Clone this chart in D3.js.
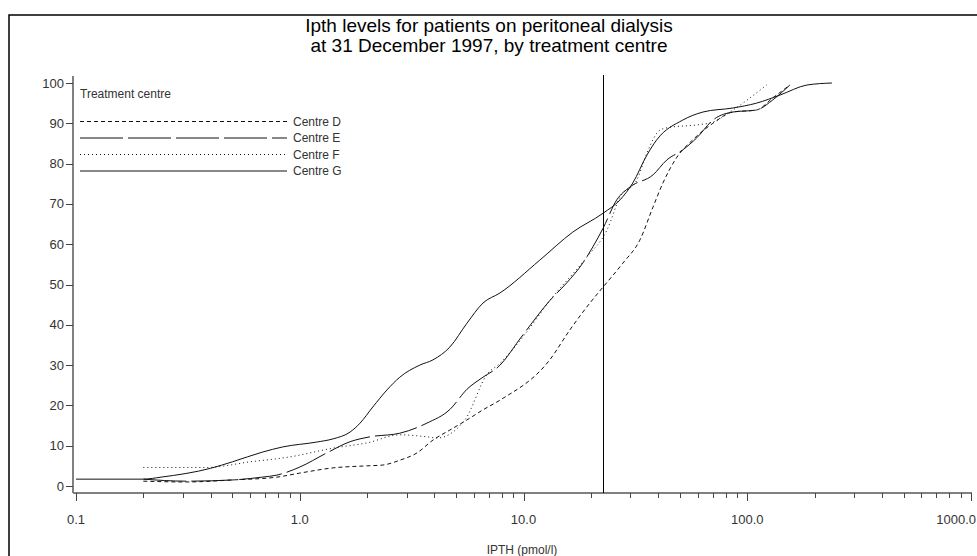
<!DOCTYPE html>
<html>
<head>
<meta charset="utf-8">
<script src="https://cdn.jsdelivr.net/npm/d3@7"></script>
<style>
body { margin: 0; background: #fff; }
text { font-family: "Liberation Sans", Arial, sans-serif; }
</style>
</head>
<body>
<svg id="chart" width="977" height="556"></svg>
<script>
// cumulative % of patients vs IPTH (pmol/l)
const centres = ["Centre D", "Centre E", "Centre F", "Centre G"];
const dashes = ["4,3", "43,5", "1,3", null];

const ipthD = [0.2, 0.31, 0.5, 0.79, 1.0, 1.41, 2.0, 2.35, 2.8, 3.34, 3.94, 4.69, 5.59, 6.59, 7.85, 13.1, 16.1, 19.8, 22.7, 27.8, 33.1, 37.9, 42.0, 48.5, 57.1, 70.2, 86.3, 110, 130, 155];
const pctD  = [1.2, 1.0, 1.5, 2.2, 3.2, 4.5, 5.0, 5.2, 6.4, 8.2, 11.4, 13.9, 16.4, 18.9, 21.3, 31.3, 38.7, 45.4, 49.4, 55.3, 61, 69.2, 75.2, 81.6, 85.9, 90, 92.8, 93.3, 96.3, 99.5];

const ipthE = [0.2, 0.31, 0.5, 0.68, 0.79, 1.0, 1.32, 1.68, 2.06, 2.8, 3.7, 4.69, 5.59, 6.59, 7.69, 9.94, 13.1, 15.6, 18.4, 20.4, 22.7, 26.1, 29.9, 37.9, 43.7, 51.5, 59.5, 70.2, 86.3, 110, 130, 155];
const pctE  = [1.7, 1.2, 1.5, 2.2, 2.7, 4.7, 8.2, 11, 12.2, 13.1, 15.6, 19, 24, 27, 29.5, 37.5, 46, 50.4, 55.3, 59.3, 64, 71, 74.2, 77.2, 80.9, 83.4, 86.4, 90.8, 92.8, 93.3, 95.8, 99.5];

const ipthF = [0.2, 0.385, 0.6, 0.9, 1.41, 2.0, 2.8, 3.7, 4.1, 5.47, 6.93, 7.69, 9.94, 13.1, 19.2, 23.6, 27.0, 32.1, 35.6, 40.7, 45.1, 59.5, 70.2, 86.3, 122];
const pctF  = [4.6, 4.6, 6, 7.2, 9.4, 10.7, 12.7, 12.2, 11.9, 16.4, 28, 30, 37, 46, 56.8, 63.5, 71.7, 75.9, 82.6, 88.3, 89, 89.6, 90.3, 93.3, 99.5];

const ipthG = [0.1, 0.2, 0.24, 0.4, 0.5, 0.68, 0.84, 1.19, 1.41, 1.68, 1.86, 2.12, 2.45, 2.8, 3.44, 3.94, 4.69, 5.59, 6.59, 7.85, 11.8, 16.6, 22.7, 27, 30.8, 35.6, 39.4, 51.5, 63.4, 86.3, 110, 140, 185, 239];
const pctG  = [1.7, 1.7, 2.2, 4.4, 6, 8.4, 9.7, 10.9, 11.7, 13.4, 15.6, 19.6, 23.8, 27, 30, 31.3, 34.5, 40.4, 45.4, 47.9, 56, 63, 67.7, 71, 75.2, 82.1, 85.9, 90.8, 92.8, 93.8, 95, 97, 99.5, 100];

const xMajor = [0.1, 1, 10, 100, 1000];
const xLabels = ["0.1", "1.0", "10.0", "100.0", "1000.0"];
const yTicks = [0, 10, 20, 30, 40, 50, 60, 70, 80, 90, 100];
const refIpth = 22.7;

const titleLines = ["Ipth levels for patients on peritoneal dialysis", "at 31 December 1997, by treatment centre"];

const series = [
    {name: centres[0], xs: ipthD, ys: pctD, dash: dashes[0]},
    {name: centres[1], xs: ipthE, ys: pctE, dash: dashes[1]},
    {name: centres[2], xs: ipthF, ys: pctF, dash: dashes[2]},
    {name: centres[3], xs: ipthG, ys: pctG, dash: dashes[3]}
];

svg = d3.select('#chart');

// outer frame
svg.append('rect')
    .attr('x', 9).attr('y', 15)
    .attr('width', 1000).attr('height', 600)
    .attr('fill', 'none')
    .attr('stroke', '#000')
    .attr('stroke-width', 1.5);

x = d3.scaleLog().domain([0.1, 1000]).range([76, 971]);
y = d3.scaleLinear().domain([0, 100]).range([486, 83]);

// title
svg.selectAll('.title')
    .data(titleLines)
    .join('text')
    .classed('title', true)
    .attr('x', 489)
    .attr('y', (d, i) => 32 + i * 20)
    .attr('text-anchor', 'middle')
    .attr('font-size', 19)
    .attr('fill', '#000')
    .text(d => d);

// x axis: minor ticks at 2..9 of each decade, long ones at decades
minor = [];
for (let e = -1; e < 3; e++) {
    for (let m = 2; m < 10; m++) minor.push(m * Math.pow(10, e));
}
xAxisY = 493;
xg = svg.append('g').attr('transform', `translate(0,${xAxisY})`);
xg.append('line')
    .attr('x1', 73).attr('x2', 972)
    .attr('stroke', '#808080').attr('stroke-width', 2);
xg.selectAll('.minor')
    .data(minor)
    .join('line')
    .classed('minor', true)
    .attr('x1', d => Math.round(x(d)) + 0.5).attr('x2', d => Math.round(x(d)) + 0.5)
    .attr('y1', 0).attr('y2', 5)
    .attr('stroke', '#444');
xg.selectAll('.major')
    .data(xMajor)
    .join('line')
    .classed('major', true)
    .attr('x1', d => Math.round(x(d)) + 0.5).attr('x2', d => Math.round(x(d)) + 0.5)
    .attr('y1', 0).attr('y2', 8)
    .attr('stroke', '#444');
xg.selectAll('.xlab')
    .data(xMajor)
    .join('text')
    .classed('xlab', true)
    .attr('x', (d, i) => i === xMajor.length - 1 ? 976 : x(d))
    .attr('y', 31)
    .attr('text-anchor', (d, i) => i === xMajor.length - 1 ? 'end' : 'middle')
    .attr('font-size', 13)
    .attr('fill', '#333')
    .text((d, i) => xLabels[i]);

svg.append('text')
    .attr('x', 522).attr('y', 554)
    .attr('text-anchor', 'middle')
    .attr('font-size', 12)
    .attr('fill', '#333')
    .text('IPTH (pmol/l)');

// y axis
yg = svg.append('g').attr('transform', 'translate(73,0)');
yg.append('line')
    .attr('y1', 76).attr('y2', xAxisY)
    .attr('stroke', '#808080').attr('stroke-width', 2);
yg.selectAll('.ytick')
    .data(yTicks)
    .join('line')
    .classed('ytick', true)
    .attr('x1', -7).attr('x2', 0)
    .attr('y1', d => Math.round(y(d)) + 0.5).attr('y2', d => Math.round(y(d)) + 0.5)
    .attr('stroke', '#444');
yg.selectAll('.ylab')
    .data(yTicks)
    .join('text')
    .classed('ylab', true)
    .attr('x', -9)
    .attr('y', d => y(d))
    .attr('dy', '.35em')
    .attr('text-anchor', 'end')
    .attr('font-size', 13)
    .attr('fill', '#333')
    .text(d => d);

// reference line
svg.append('line')
    .attr('x1', Math.round(x(refIpth)) + 0.5).attr('x2', Math.round(x(refIpth)) + 0.5)
    .attr('y1', 75).attr('y2', xAxisY)
    .attr('stroke', '#000');

// curves
line = d3.line()
    .x(d => x(d[0]))
    .y(d => y(d[1]))
    .curve(d3.curveMonotoneX);

svg.selectAll('.curve')
    .data(series)
    .join('path')
    .classed('curve', true)
    .attr('d', s => line(s.xs.map((v, i) => [v, s.ys[i]])))
    .attr('fill', 'none')
    .attr('stroke', '#111')
    .attr('stroke-width', 1)
    .attr('stroke-dasharray', s => s.dash);

// legend
svg.append('text')
    .attr('x', 80).attr('y', 98)
    .attr('font-size', 12)
    .attr('fill', '#333')
    .text('Treatment centre');

lg = svg.selectAll('.leg')
    .data(series)
    .join('g')
    .classed('leg', true)
    .attr('transform', (d, i) => `translate(0,${121.5 + i * 16.5})`);
lg.append('line')
    .attr('x1', 80).attr('x2', 287)
    .attr('stroke', '#111')
    .attr('stroke-dasharray', d => d.dash);
lg.append('text')
    .attr('x', 293)
    .attr('dy', '.35em')
    .attr('font-size', 12)
    .attr('fill', '#333')
    .text(d => d.name);
</script>
</body>
</html>
